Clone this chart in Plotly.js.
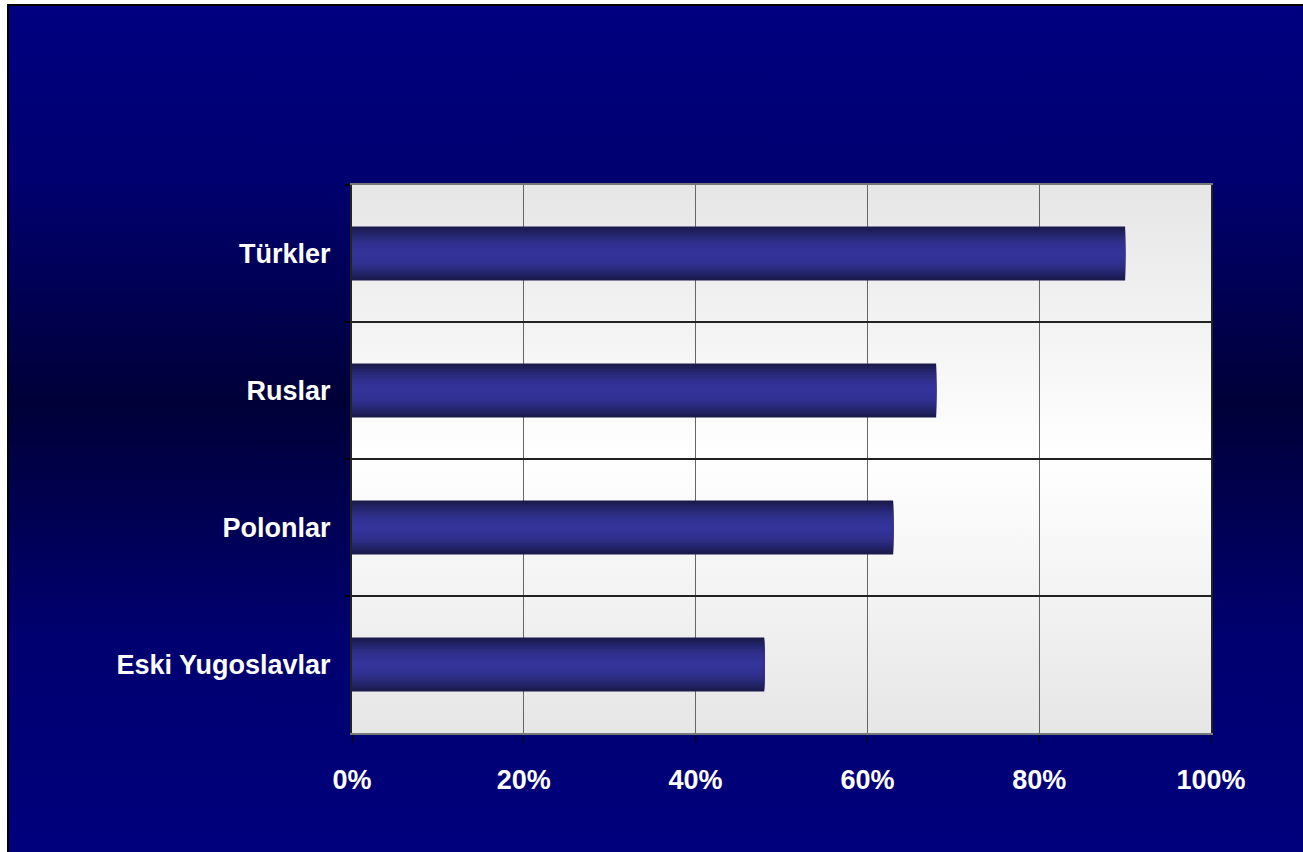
<!DOCTYPE html>
<html>
<head>
<meta charset="utf-8">
<script src="https://cdn.plot.ly/plotly-3.0.1.min.js"></script>
<style>
  html, body { margin: 0; padding: 0; background: #ffffff; width: 1303px; height: 852px; overflow: hidden; }
  #bg { position: absolute; left: 7px; top: 4px; width: 1296px; height: 848px;
        border-top: 2px solid #000; border-left: 2px solid #000; box-sizing: border-box;
        background: linear-gradient(to bottom, #000080 0%, #000070 20%, #000038 47%, #000070 75%, #00007c 100%); }
  #plotbg { position: absolute; left: 352px; top: 185px; width: 859px; height: 548px;
        background: linear-gradient(to bottom, #e6e6e6 0%, #ffffff 50%, #e6e6e6 100%); }
  #chart { position: absolute; left: 0; top: 0; width: 1303px; height: 852px; }
</style>
</head>
<body>
<div id="bg"></div>
<div id="plotbg"></div>
<div id="chart"></div>
<script>
const categories = ["Türkler", "Ruslar", "Polonlar", "Eski Yugoslavlar"];
const values = [90, 68, 63, 48];
const tickValues = [0, 20, 40, 60, 80, 100];
const tickLabels = ["0%", "20%", "40%", "60%", "80%", "100%"];

// cylinder-like shading built from overlaid bars of decreasing thickness
const edge = [26, 26, 77], center = [51, 51, 153];
const layers = 14;
const fullWidth = 0.395;
const traces = [];
for (let i = 0; i < layers; i++) {
  const t = i / (layers - 1);
  const f = Math.sin(t * Math.PI / 2);
  const c = edge.map((e, k) => Math.round(e + (center[k] - e) * f));
  traces.push({
    type: "bar",
    orientation: "h",
    x: values,
    y: categories,
    width: fullWidth * (1 - i / layers),
    marker: { color: `rgb(${c[0]},${c[1]},${c[2]})`, line: { width: 0 } },
    hoverinfo: "x+y",
    showlegend: false
  });
}

const font = { family: "Liberation Sans, Arial, sans-serif", size: 27, color: "#ffffff", weight: "bold" };

const layout = {
  width: 1303,
  height: 852,
  margin: { l: 352, r: 92, t: 185, b: 119, pad: 0 },
  paper_bgcolor: "rgba(0,0,0,0)",
  plot_bgcolor: "rgba(0,0,0,0)",
  barmode: "overlay",
  font: font,
  xaxis: {
    range: [0, 100],
    tickvals: tickValues,
    ticktext: tickLabels,
    showgrid: true,
    gridcolor: "#666666",
    gridwidth: 1,
    zeroline: false,
    showline: true,
    linecolor: "#777777",
    linewidth: 2,
    mirror: true,
    ticks: "outside",
    ticklen: 8,
    tickwidth: 1,
    tickcolor: "#000000",
    ticklabelstandoff: 14,
    tickfont: font,
    fixedrange: true
  },
  yaxis: {
    type: "category",
    categoryorder: "array",
    categoryarray: categories,
    autorange: "reversed",
    tickson: "boundaries",
    showgrid: true,
    gridcolor: "#222222",
    gridwidth: 1.5,
    showline: true,
    linecolor: "#222222",
    linewidth: 2,
    mirror: true,
    ticks: "outside",
    ticklen: 5,
    tickwidth: 1.5,
    tickcolor: "#000000",
    ticklabelstandoff: 14,
    tickfont: font,
    fixedrange: true
  }
};

Plotly.newPlot("chart", traces, layout, { displayModeBar: false, staticPlot: true });
</script>
</body>
</html>
